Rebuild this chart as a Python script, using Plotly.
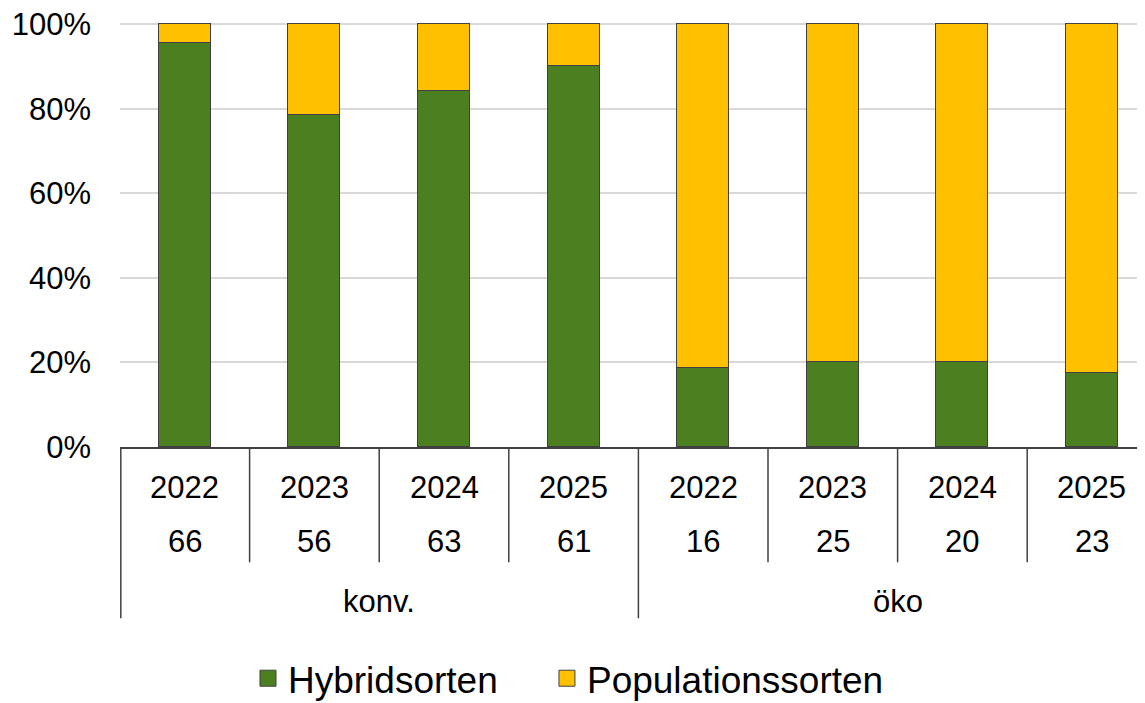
import plotly.graph_objects as go

years = ["2022", "2023", "2024", "2025", "2022", "2023", "2024", "2025"]
counts = ["66", "56", "63", "61", "16", "25", "20", "23"]
groups = ["konv.", "öko"]
hybrid = [95.5, 78.6, 84.1, 90.2, 18.8, 20.0, 20.0, 17.4]
population = [round(100 - v, 1) for v in hybrid]

GREEN = "#4C7F20"
YELLOW = "#FFC000"
OUTLINE = "#404040"
FONT = "Liberation Sans, Arial, sans-serif"

xpos = list(range(len(years)))

fig = go.Figure()
fig.add_trace(go.Bar(x=xpos, y=hybrid, name="Hybridsorten", marker=dict(color=GREEN, line=dict(color=OUTLINE, width=1)),
                     width=0.4, showlegend=False))
fig.add_trace(go.Bar(x=xpos, y=population, name="Populationssorten", marker=dict(color=YELLOW, line=dict(color=OUTLINE, width=1)),
                     width=0.4, showlegend=False))
# legend entries with bigger square symbols
for name, col, lg in [("Hybridsorten", GREEN, "legend"), ("Populationssorten", YELLOW, "legend2")]:
    fig.add_trace(go.Scatter(x=[None], y=[None], mode="markers", name=name, legend=lg,
                             marker=dict(symbol="square", size=20, color=col, line=dict(color=OUTLINE, width=1))))

annotations = []
shapes = []
for i, (yr, c) in enumerate(zip(years, counts)):
    annotations.append(dict(x=i, y=-0.0946, xref="x", yref="paper", text=yr, showarrow=False,
                            font=dict(size=31, color="black", family=FONT), yanchor="middle"))
    annotations.append(dict(x=i, y=-0.222, xref="x", yref="paper", text=c, showarrow=False,
                            font=dict(size=31, color="black", family=FONT), yanchor="middle"))
# group labels
n_per = len(years) // len(groups)
for g, name in enumerate(groups):
    center = g * n_per + (n_per - 1) / 2
    annotations.append(dict(x=center, y=-0.364, xref="x", yref="paper", text=name, showarrow=False,
                            font=dict(size=31, color="black", family=FONT), yanchor="middle"))

# separators between inner categories
for i in range(1, len(years)):
    boundary = i - 0.5
    if i % n_per == 0:
        y1 = -0.404
    else:
        y1 = -0.272
    shapes.append(dict(type="line", xref="x", yref="paper", x0=boundary, x1=boundary, y0=0, y1=y1,
                       line=dict(color=OUTLINE, width=1.5)))
# left outer line
shapes.append(dict(type="line", xref="paper", yref="paper", x0=0.0008, x1=0.0008, y0=0, y1=-0.404,
                   line=dict(color=OUTLINE, width=1.5)))

legend_common = dict(orientation="h", xref="container", yref="container", y=0.046, xanchor="left", yanchor="middle",
                     font=dict(size=37, color="black", family=FONT), itemwidth=30, bgcolor="rgba(0,0,0,0)")

fig.update_layout(
    barmode="stack",
    width=1145, height=703,
    margin=dict(l=112, r=8, t=15, b=264),
    plot_bgcolor="white", paper_bgcolor="white",
    font=dict(family=FONT, size=31, color="black"),
    xaxis=dict(range=[-0.5, 7.409], showticklabels=False, showgrid=False, zeroline=False, automargin=False,
               showline=True, linecolor=OUTLINE, linewidth=1.5, ticks=""),
    yaxis=dict(range=[0, 100.3], tickvals=[0, 20, 40, 60, 80, 100], ticktext=["0%", "20%", "40%", "60%", "80%", "100%"],
               showgrid=True, gridcolor="#d9d9d9", gridwidth=1.5, zeroline=False, showline=False, automargin=False,
               tickfont=dict(size=31, color="black", family=FONT), ticklabelstandoff=28,
               ticklabeloverflow="allow"),
    legend=dict(x=0.2096, **legend_common),
    legend2=dict(x=0.4707, **legend_common),
    annotations=annotations,
    shapes=shapes,
    bargap=0,
)

fig.write_html("out.html")
